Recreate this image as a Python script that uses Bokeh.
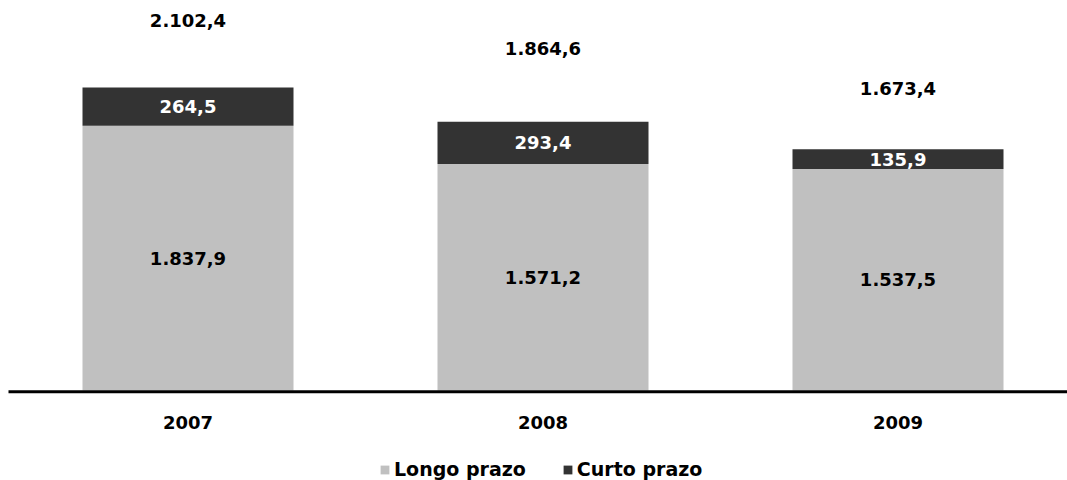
from bokeh.plotting import figure
from bokeh.models import ColumnDataSource, Range1d
from bokeh.core.properties import value
from bokeh.embed import file_html
from bokeh.resources import INLINE

# ---- data ----
years = ["2007", "2008", "2009"]
longo = [1837.9, 1571.2, 1537.5]
curto = [264.5, 293.4, 135.9]
totals = [2102.4, 1864.6, 1673.4]

# ---- layout constants (pixels) ----
W, H = 1067, 480
ZERO_FROM_TOP = 390          # canvas y of the baseline
PX_PER_UNIT = 0.1441
SLOT = 355.0                 # px between bar centres
FIRST_CENTER = 187.5         # px of first bar centre
BAR_W_PX = 211.0
total_lift_px = [67, 73, 61]
year_drop_px = 32
BASELINE_LEFT_PX = 8
BASELINE_DROP_PX = 1.3

U = 1.0 / PX_PER_UNIT


def fmt(v):
    s = f"{v:,.1f}"
    return s.replace(",", "X").replace(".", ",").replace("X", ".")


xs = list(range(len(years)))
bottom_curto = longo
top_curto = [a + b for a, b in zip(longo, curto)]

src = ColumnDataSource(dict(
    x=xs,
    longo=longo,
    curto_bottom=bottom_curto,
    curto_top=top_curto,
    longo_mid=[v / 2 for v in longo],
    curto_mid=[a + b / 2 for a, b in zip(longo, curto)],
    total_y=[t + l * U for t, l in zip(totals, total_lift_px)],
    year_y=[-year_drop_px * U] * len(years),
    longo_lbl=[fmt(v) for v in longo],
    curto_lbl=[fmt(v) for v in curto],
    total_lbl=[fmt(v) for v in totals],
    year_lbl=years,
))

x_start = -FIRST_CENTER / SLOT
x_end = (W - FIRST_CENTER) / SLOT
y_start = -(H - ZERO_FROM_TOP) * U
y_end = ZERO_FROM_TOP * U

p = figure(width=W, height=H, output_backend="svg", toolbar_location=None,
           x_range=Range1d(x_start, x_end), y_range=Range1d(y_start, y_end),
           x_axis_type=None, y_axis_type=None,
           min_border=0, min_border_left=0, min_border_right=0,
           min_border_top=0, min_border_bottom=0)
p.outline_line_color = None
p.grid.visible = False
p.background_fill_color = "white"
p.border_fill_color = "white"

bw = BAR_W_PX / SLOT
p.vbar(x="x", width=bw, bottom=0, top="longo", source=src,
       fill_color="#c0c0c0", line_color=None, legend_label="Longo prazo")
p.vbar(x="x", width=bw, bottom="curto_bottom", top="curto_top", source=src,
       fill_color="#333333", line_color=None, legend_label="Curto prazo")

# baseline
by = -BASELINE_DROP_PX * U
p.segment(x0=[(BASELINE_LEFT_PX - FIRST_CENTER) / SLOT], y0=[by],
          x1=[x_end + 0.1], y1=[by], line_color="black", line_width=3)

font = value("DejaVu Sans")
common = dict(text_font=font, text_font_style="bold", text_font_size="18px",
              text_align="center", text_baseline="middle")
p.text(x="x", y="longo_mid", text="longo_lbl", source=src, text_color="#000000", **common)
p.text(x="x", y="curto_mid", text="curto_lbl", source=src, text_color="#ffffff", **common)
p.text(x="x", y="total_y", text="total_lbl", source=src, text_color="#000000", **common)
p.text(x="x", y="year_y", text="year_lbl", source=src, text_color="#000000", **common)

lg = p.legend[0]
lg.orientation = "horizontal"
lg.location = (379, 0)
lg.padding = 0
lg.margin = 0
lg.spacing = 36
lg.border_line_color = None
lg.background_fill_alpha = 0
lg.glyph_width = 11
lg.glyph_height = 11
lg.label_standoff = 4
lg.label_height = 16
lg.label_text_font = "DejaVu Sans"
lg.label_text_font_style = "bold"
lg.label_text_font_size = "19px"
lg.label_text_color = "#000000"

open("out.html", "w").write(file_html(p, INLINE))
